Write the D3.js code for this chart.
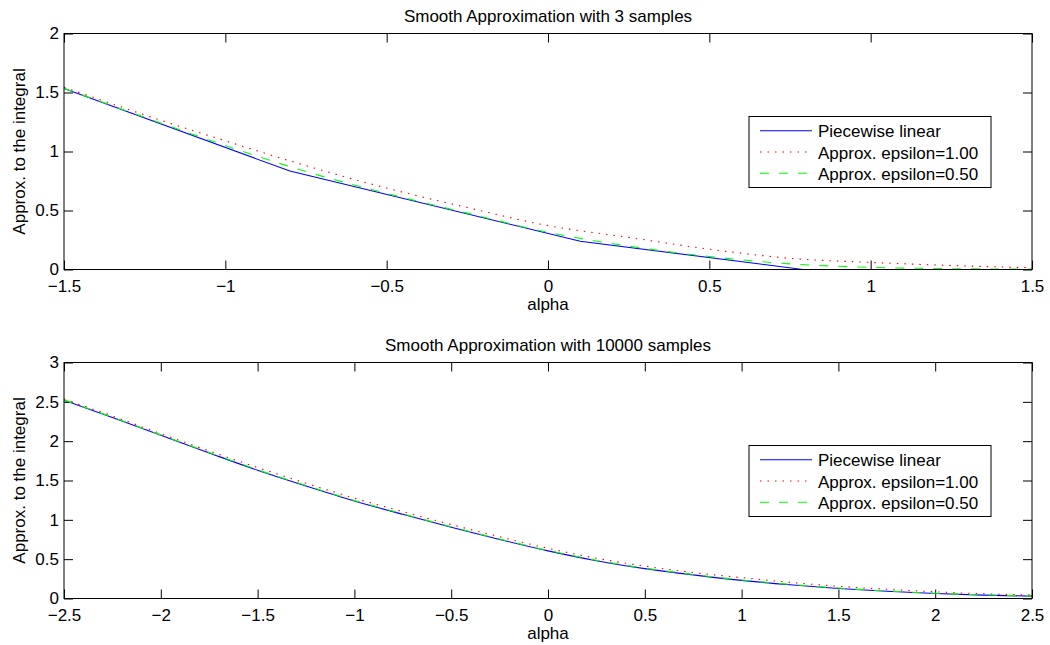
<!DOCTYPE html>
<html>
<head>
<meta charset="utf-8">
<script src="https://cdn.jsdelivr.net/npm/d3@7"></script>
<style>
  body { margin: 0; background: #fff; }
  svg { display: block; }
  text { font-family: "Liberation Sans", Arial, Helvetica, sans-serif; font-size: 17px; fill: #000; }
</style>
</head>
<body>
<div id="chart"></div>
<script>
var svgWidth = 1050;
var svgHeight = 645;

// ---- data ----
// top panel: 3 samples
var topTitle = "Smooth Approximation with 3 samples";
var topLinearAlpha = [-1.5, -0.8, 0.1, 0.79, 1.5];
var topLinearValues = [1.534, 0.834, 0.24, 0.0, 0.0];
var topSmoothAlpha = [-1.5, -1.25, -1, -0.75, -0.5, -0.25, 0, 0.25, 0.5, 0.75, 1, 1.25, 1.5];
var topEps100 = [1.545, 1.31, 1.09, 0.88, 0.69, 0.525, 0.372, 0.272, 0.172, 0.095, 0.06, 0.034, 0.015];
var topEps050 = [1.535, 1.29, 1.05, 0.83, 0.645, 0.478, 0.315, 0.198, 0.11, 0.048, 0.018, 0.007, 0.003];
var topXTicks = [-1.5, -1, -0.5, 0, 0.5, 1, 1.5];
var topYTicks = [0, 0.5, 1, 1.5, 2];

// bottom panel: 10000 samples
var bottomTitle = "Smooth Approximation with 10000 samples";
var bottomAlpha = [-2.5, -2.25, -2, -1.75, -1.5, -1.25, -1, -0.75, -0.5, -0.25, 0,
                   0.25, 0.5, 0.75, 1, 1.25, 1.5, 1.75, 2, 2.25, 2.5];
var bottomLinear = [2.52, 2.30, 2.075, 1.85, 1.63, 1.43, 1.24, 1.07, 0.905, 0.75, 0.605,
                    0.48, 0.38, 0.30, 0.23, 0.175, 0.128, 0.092, 0.063, 0.043, 0.03];
var bottomEps100 = [2.535, 2.32, 2.095, 1.875, 1.665, 1.465, 1.275, 1.105, 0.94, 0.785, 0.638,
                    0.512, 0.412, 0.33, 0.265, 0.205, 0.155, 0.117, 0.085, 0.06, 0.045];
var bottomEps050 = [2.525, 2.305, 2.08, 1.857, 1.637, 1.437, 1.247, 1.077, 0.912, 0.757, 0.612,
                    0.487, 0.386, 0.306, 0.236, 0.18, 0.133, 0.096, 0.066, 0.046, 0.032];
var bottomXTicks = [-2.5, -2, -1.5, -1, -0.5, 0, 0.5, 1, 1.5, 2, 2.5];
var bottomYTicks = [0, 0.5, 1, 1.5, 2, 2.5, 3];

var legendLabels = ["Piecewise linear", "Approx. epsilon=1.00", "Approx. epsilon=0.50"];

// line styles for the three series
var seriesStyle = [
    { color: "#0000ff", dash: null },
    { color: "#ff0000", dash: "1.5,6" },
    { color: "#00ff00", dash: "9,10" }
];

var svg = d3.select("#chart")
    .append("svg")
    .attr("width", svgWidth)
    .attr("height", svgHeight);

function fmt(d) {
    return (d < 0 ? "\u2212" : "") + Math.abs(d);
}

// draws one panel
function drawPanel(opts) {
    var left = 64, width = 968, height = 236;
    var g = svg.append("g")
        .attr("transform", `translate(${left}, ${opts.top})`);

    var x = d3.scaleLinear().domain(opts.xDomain).range([0, width]);
    var y = d3.scaleLinear().domain(opts.yDomain).range([height, 0]);

    // ticks on all four sides, pointing inward
    g.append("g")
        .attr("transform", `translate(0, ${height})`)
        .call(d3.axisBottom(x).tickValues(opts.xTicks).tickFormat(fmt)
            .tickSizeInner(-9).tickSizeOuter(0).tickPadding(10));
    g.append("g")
        .call(d3.axisTop(x).tickValues(opts.xTicks).tickFormat("")
            .tickSizeInner(-9).tickSizeOuter(0));
    g.append("g")
        .call(d3.axisLeft(y).tickValues(opts.yTicks).tickFormat(fmt)
            .tickSizeInner(-9).tickSizeOuter(0).tickPadding(5));
    g.append("g")
        .attr("transform", `translate(${width}, 0)`)
        .call(d3.axisRight(y).tickValues(opts.yTicks).tickFormat("")
            .tickSizeInner(-9).tickSizeOuter(0));

    g.selectAll(".domain").remove();
    g.selectAll(".tick line").attr("stroke", "#000");
    g.selectAll(".tick text")
        .style("font-size", "17px")
        .style("font-family", "'Liberation Sans', Arial, sans-serif");

    // curves
    var lineLinear = d3.line()
        .x(d => x(d[0])).y(d => y(d[1]));
    var lineSmooth = d3.line()
        .curve(d3.curveMonotoneX)
        .x(d => x(d[0])).y(d => y(d[1]));

    opts.series.forEach(function(s, i) {
        var pts = s.alpha.map((a, j) => [a, s.values[j]]);
        g.append("path")
            .datum(pts)
            .attr("fill", "none")
            .attr("stroke", seriesStyle[i].color)
            .attr("stroke-width", 1.1)
            .attr("stroke-dasharray", seriesStyle[i].dash)
            .attr("d", s.smooth ? lineSmooth : lineLinear);
    });

    // frame
    g.append("rect")
        .attr("x", 0).attr("y", 0)
        .attr("width", width).attr("height", height)
        .attr("fill", "none")
        .attr("stroke", "#000")
        .attr("stroke-width", 1);

    // title and labels
    g.append("text")
        .attr("x", width / 2).attr("y", -12)
        .attr("text-anchor", "middle")
        .text(opts.title);
    g.append("text")
        .attr("x", width / 2).attr("y", height + 40.5)
        .attr("text-anchor", "middle")
        .text("alpha");
    g.append("text")
        .attr("transform", `translate(${25 - left}, ${height / 2}) rotate(-90)`)
        .attr("text-anchor", "middle")
        .text("Approx. to the integral");

    // legend
    var legend = g.append("g")
        .attr("transform", `translate(${749 - left}, 83)`);
    legend.append("rect")
        .attr("width", 242).attr("height", 71)
        .attr("fill", "#fff")
        .attr("stroke", "#000");
    legendLabels.forEach(function(label, i) {
        var by = 20.7 + i * 21.3;
        legend.append("line")
            .attr("x1", 11).attr("x2", 63)
            .attr("y1", by - 6.5).attr("y2", by - 6.5)
            .attr("stroke", seriesStyle[i].color)
            .attr("stroke-width", 1.1)
            .attr("stroke-dasharray", seriesStyle[i].dash);
        legend.append("text")
            .attr("x", 69).attr("y", by)
            .text(label);
    });
}

drawPanel({
    top: 33.5,
    title: topTitle,
    xDomain: [-1.5, 1.5],
    yDomain: [0, 2],
    xTicks: topXTicks,
    yTicks: topYTicks,
    series: [
        { alpha: topLinearAlpha, values: topLinearValues, smooth: false },
        { alpha: topSmoothAlpha, values: topEps100, smooth: true },
        { alpha: topSmoothAlpha, values: topEps050, smooth: true }
    ]
});

drawPanel({
    top: 362.5,
    title: bottomTitle,
    xDomain: [-2.5, 2.5],
    yDomain: [0, 3],
    xTicks: bottomXTicks,
    yTicks: bottomYTicks,
    series: [
        { alpha: bottomAlpha, values: bottomLinear, smooth: true },
        { alpha: bottomAlpha, values: bottomEps100, smooth: true },
        { alpha: bottomAlpha, values: bottomEps050, smooth: true }
    ]
});
</script>
</body>
</html>
